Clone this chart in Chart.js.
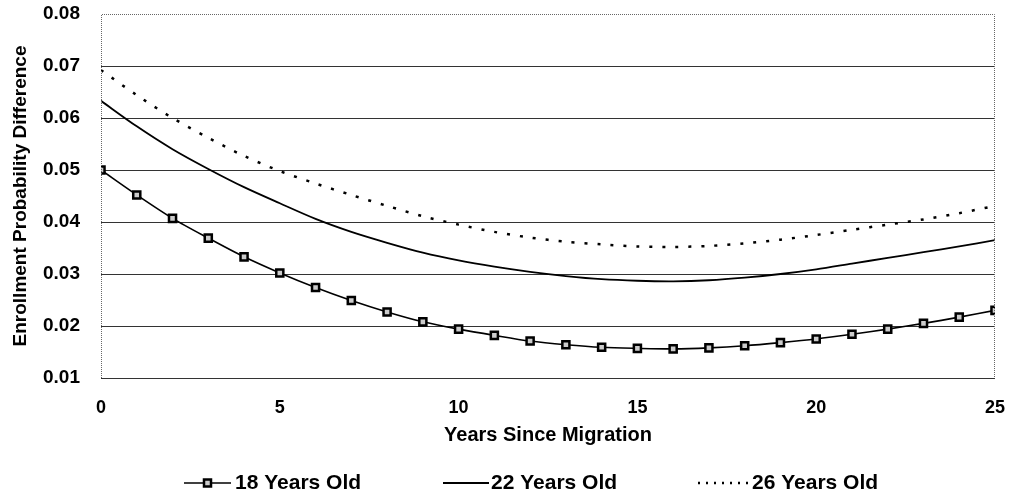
<!DOCTYPE html>
<html>
<head>
<meta charset="utf-8">
<script src="https://cdn.jsdelivr.net/npm/chart.js@4.4.0/dist/chart.umd.min.js"></script>
<style>
  html, body { margin: 0; padding: 0; background: #fff; }
  #wrap { width: 1013px; height: 499px; position: relative; }
</style>
</head>
<body>
<div id="wrap"><canvas id="c" width="1013" height="499"></canvas></div>
<script>
const years = [0,1,2,3,4,5,6,7,8,9,10,11,12,13,14,15,16,17,18,19,20,21,22,23,24,25];
const age18 = [0.0500,0.0452,0.0407,0.0369,0.0333,0.0302,0.0274,0.0249,0.0227,0.0208,0.0194,0.0182,0.0171,0.0164,0.0159,0.0157,0.0156,0.0158,0.0162,0.0168,0.0175,0.0184,0.0194,0.0205,0.0217,0.0230];
const age22 = [0.0633,0.0584,0.0540,0.0502,0.0467,0.0436,0.0406,0.0381,0.0360,0.0341,0.0326,0.0314,0.0304,0.0296,0.0290,0.0287,0.0286,0.0288,0.0293,0.0300,0.0309,0.0320,0.0331,0.0342,0.0353,0.0365];
const age26 = [0.0692,0.0644,0.0600,0.0562,0.0527,0.0498,0.0474,0.0452,0.0431,0.0411,0.0395,0.0381,0.0370,0.0362,0.0357,0.0353,0.0352,0.0354,0.0359,0.0366,0.0375,0.0385,0.0395,0.0405,0.0417,0.0431];
const seriesNames = ['18 Years Old', '22 Years Old', '26 Years Old'];
const yAxisTitle = 'Enrollment Probability Difference';
const xAxisTitle = 'Years Since Migration';

const FONT = "'Liberation Sans', Arial, sans-serif";

const toXY = arr => arr.map((v, i) => ({x: years[i], y: v}));

const framePlugin = {
  id: 'frame',
  afterDatasetsDraw(chart) {
    const {ctx, chartArea: a} = chart;
    ctx.save();
    ctx.strokeStyle = '#666';
    ctx.lineWidth = 1;
    ctx.setLineDash([1, 1]);
    ctx.beginPath();
    ctx.moveTo(a.left + 0.5, a.bottom);
    ctx.lineTo(a.left + 0.5, a.top + 0.5);
    ctx.lineTo(a.right - 0.5, a.top + 0.5);
    ctx.lineTo(a.right - 0.5, a.bottom);
    ctx.stroke();
    ctx.restore();
  }
};

const legendPlugin = {
  id: 'customLegend',
  afterDraw(chart) {
    const {ctx} = chart;
    const y = 483;
    const items = [
      {x0: 184, x1: 231, tx: 235, ds: 0, dash: []},
      {x0: 443, x1: 489, tx: 491, ds: 1, dash: []},
      {x0: 698, x1: 750, tx: 752, ds: 2, dash: [2, 6]}
    ];
    ctx.save();
    items.forEach(it => {
      const ds = chart.data.datasets[it.ds];
      ctx.strokeStyle = '#000';
      ctx.lineWidth = ds.borderWidth;
      ctx.setLineDash(it.dash);
      ctx.beginPath();
      ctx.moveTo(it.x0, y);
      ctx.lineTo(it.x1, y);
      ctx.stroke();
      ctx.setLineDash([]);
      if (ds.pointRadius > 0) {
        const m = (it.x0 + it.x1) / 2;
        ctx.fillStyle = ds.pointBackgroundColor;
        ctx.lineWidth = ds.pointBorderWidth;
        ctx.strokeStyle = '#000';
        ctx.fillRect(m - 3.5, y - 3.5, 7, 7);
        ctx.strokeRect(m - 3.5, y - 3.5, 7, 7);
      }
      ctx.fillStyle = '#000';
      ctx.font = "bold 21px " + FONT;
      ctx.textBaseline = 'middle';
      ctx.textAlign = 'left';
      ctx.fillText(ds.label, it.tx, y);
    });
    ctx.restore();
  }
};

new Chart(document.getElementById('c'), {
  type: 'line',
  data: {
    datasets: [
      {
        label: seriesNames[0],
        data: toXY(age18),
        borderColor: '#000',
        borderWidth: 1.6,
        pointStyle: 'rect',
        pointRadius: 5,
        pointBorderWidth: 2.5,
        pointBorderColor: '#000',
        pointBackgroundColor: '#ccc',
        tension: 0.3,
        fill: false
      },
      {
        label: seriesNames[1],
        data: toXY(age22),
        borderColor: '#000',
        borderWidth: 1.8,
        pointRadius: 0,
        tension: 0.3,
        fill: false
      },
      {
        label: seriesNames[2],
        data: toXY(age26),
        borderColor: '#000',
        borderWidth: 2.5,
        borderDash: [3, 10],
        pointRadius: 0,
        tension: 0.3,
        fill: false
      }
    ]
  },
  options: {
    responsive: false,
    animation: false,
    devicePixelRatio: 1,
    layout: { padding: { left: 0, top: 14, right: 18, bottom: 51 } },
    plugins: {
      legend: { display: false },
      tooltip: { enabled: false }
    },
    scales: {
      x: {
        type: 'linear',
        min: 0,
        max: 25,
        afterFit(scale) {
          scale.height = 70;
          scale.paddingLeft = 0; scale.paddingRight = 0;
          scale.paddingTop = 0; scale.paddingBottom = 0;
        },
        ticks: {
          stepSize: 5,
          padding: 19,
          color: '#000',
          font: { family: FONT, size: 18, weight: 'bold' }
        },
        grid: { display: false, drawTicks: false },
        border: { display: false },
        title: {
          display: true,
          text: xAxisTitle,
          color: '#000',
          font: { family: FONT, size: 20, weight: 'bold' },
          padding: { top: 0, bottom: 1 }
        }
      },
      y: {
        min: 0.01,
        max: 0.08,
        afterFit(scale) {
          scale.width = 101;
          scale.paddingLeft = 0; scale.paddingRight = 0;
          scale.paddingTop = 0; scale.paddingBottom = 0;
        },
        ticks: {
          stepSize: 0.01,
          padding: 21,
          color: '#000',
          font: { family: FONT, size: 19, weight: 'bold' },
          callback: v => Number(v).toFixed(2)
        },
        grid: {
          drawTicks: false,
          lineWidth: 1,
          color: c => (Math.abs(c.tick.value - 0.08) < 1e-6 ? 'rgba(0,0,0,0)' : '#333')
        },
        border: { display: false },
        title: {
          display: true,
          text: yAxisTitle,
          color: '#000',
          font: { family: FONT, size: 19, weight: 'bold' },
          padding: { top: 9, bottom: 0 }
        }
      }
    }
  },
  plugins: [framePlugin, legendPlugin]
});
</script>
</body>
</html>
